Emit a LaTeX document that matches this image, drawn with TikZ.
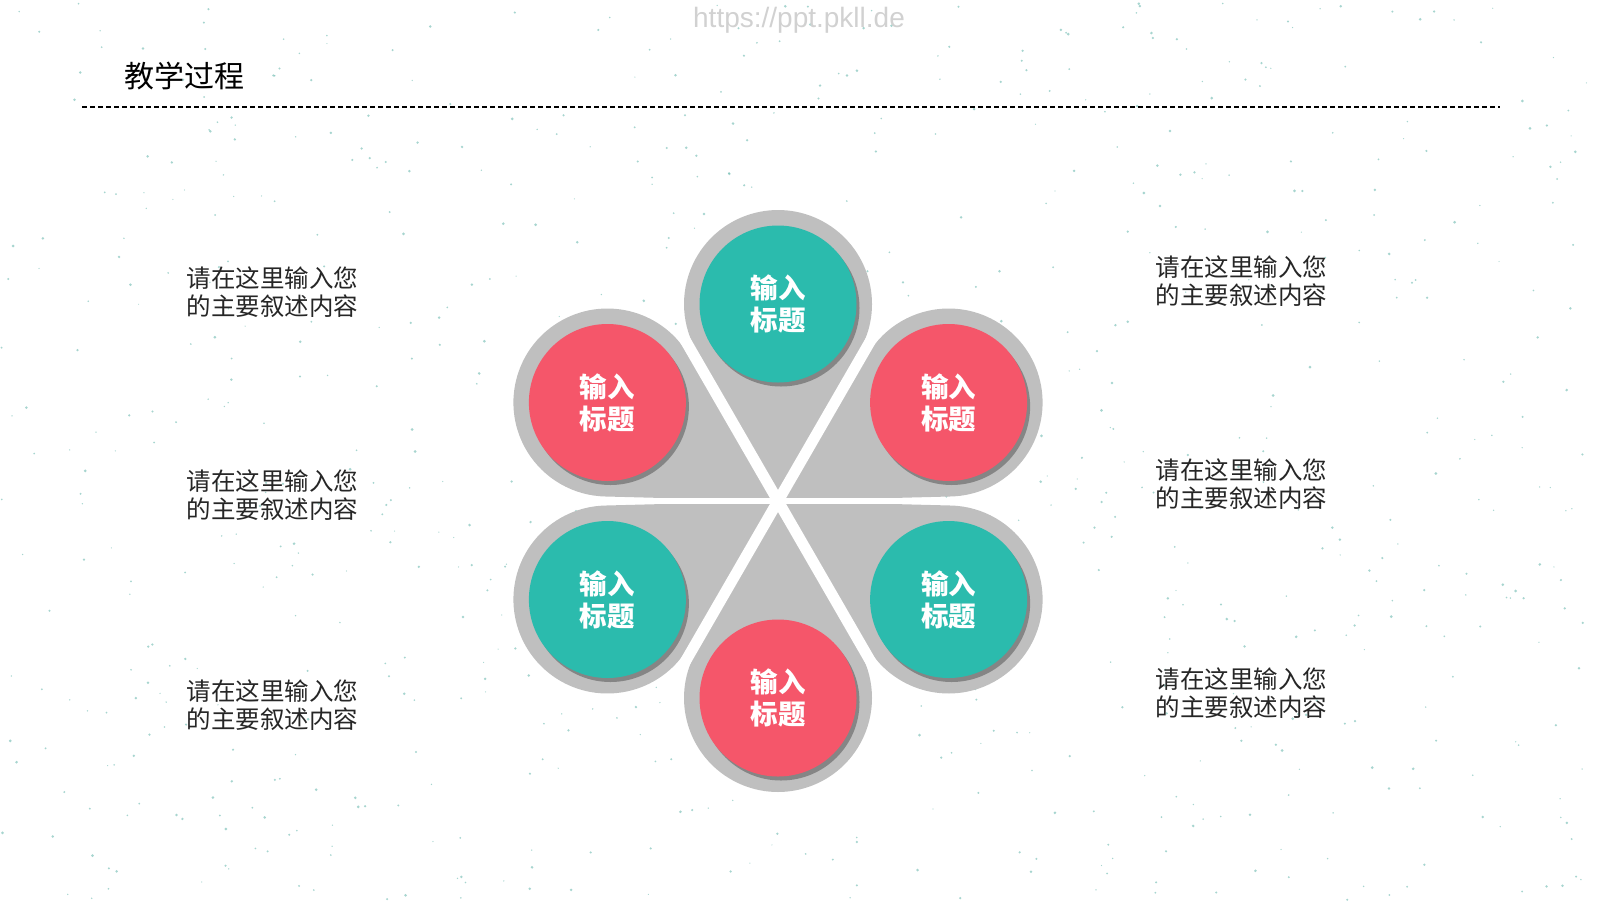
\documentclass[tikz,border=0pt]{standalone}
\usepackage{fontspec}
\newfontfamily\cjk{Noto Sans CJK SC}
\newfontfamily\webfont{Liberation Sans}
\usetikzlibrary{shadows}

\definecolor{tuerkis}{HTML}{2BBBAD}
\definecolor{rosa}{HTML}{F5566A}
\definecolor{blatt}{HTML}{BFBFBF}
\definecolor{punkt}{HTML}{5FB3A8}
\definecolor{schrift}{HTML}{262626}

\tikzset{
  blume/.style={circle, minimum size=157, inner sep=0pt, text=white, align=center,
    font=\cjk\bfseries\fontsize{27.5}{32}\selectfont,
    drop shadow={shadow xshift=3, shadow yshift=4, opacity=0.3, fill=black}},
  notiz/.style={anchor=west, align=left, text=schrift, font=\cjk\fontsize{24.5}{28.5}\selectfont},
  luecke/.style={white, line width=#1}
}

\begin{document}
\begin{tikzpicture}[x=1pt, y=-1pt]
        \useasboundingbox (0,0) rectangle (1600,900);

        % zeichne Punkte im Hintergrund
        \pgfmathsetseed{42}
        \foreach \i in {1,...,800}
            \fill[punkt, opacity=0.55] (rnd*1600, rnd*900) circle (0.6+rnd*0.9);

        % zeichne Kopfzeile
        \node[text=black!18, font=\webfont\fontsize{28}{28}\selectfont] (quelle) at (799,20) {https://ppt.pkll.de};
        \node[anchor=west, font=\cjk\fontsize{30}{30}\selectfont] (titel) at (121,76) {教学过程};
        \draw[dash pattern=on 5pt off 3pt, line width=1.8] (82,107) -- (1500,107);

        % zeichne Blaetter
        \coordinate (mitte) at (778,501);
        \pgfmathsetmacro{\abst}{197}
        \pgfmathsetmacro{\rad}{94}
        \pgfmathsetmacro{\alf}{asin(\rad/\abst)}
        \pgfmathsetmacro{\lang}{\abst*cos(\alf)}
        \foreach \w in {-90,-30,30,90,150,210}
            \fill[blatt] (mitte) -- ++(\w+\alf:\lang)
                arc[start angle=\w+90+\alf, end angle=\w-90-\alf, radius=\rad] -- cycle;

        % zeichne Luecken
        \foreach \w/\b in {0/6, 60/11, 120/11}
            \draw[luecke=\b] (mitte) ++(\w:195) -- ++(\w+180:390);

        % zeichne Kreise
        \foreach \w/\f/\n in {-90/tuerkis/oben, -30/rosa/obenrechts, 30/tuerkis/untenrechts,
                              90/rosa/unten, 150/tuerkis/untenlinks, 210/rosa/obenlinks}
            \node[blume, fill=\f] (\n) at ([shift={(\w:\abst)}]mitte) {输入\\标题};

        % zeichne Texte
        \node[notiz] (links1) at (183,292) {请在这里输入您\\的主要叙述内容};
        \node[notiz] (links2) at (183,495) {请在这里输入您\\的主要叙述内容};
        \node[notiz] (links3) at (183,705) {请在这里输入您\\的主要叙述内容};
        \node[notiz] (rechts1) at (1152,281) {请在这里输入您\\的主要叙述内容};
        \node[notiz] (rechts2) at (1152,484) {请在这里输入您\\的主要叙述内容};
        \node[notiz] (rechts3) at (1152,693) {请在这里输入您\\的主要叙述内容};
    \end{tikzpicture}
\end{document}
